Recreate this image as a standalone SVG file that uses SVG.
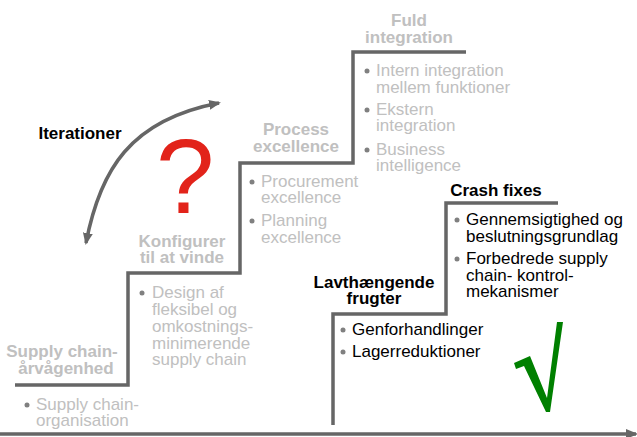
<svg xmlns="http://www.w3.org/2000/svg" width="637" height="437" viewBox="0 0 637 437">
<style>
.h{font-family:"Liberation Sans",Arial,sans-serif;font-size:17px;font-weight:bold;text-anchor:middle}
.t{font-family:"Liberation Sans",Arial,sans-serif;font-size:17px}
.g{fill:#c0c0c0}
.k{fill:#000}
.step{fill:none;stroke:#666;stroke-width:3.5}
.dot{fill:#808080}
</style>
<defs>
<marker id="ah" viewBox="0 0 12 10" refX="10" refY="5" markerWidth="12" markerHeight="10" markerUnits="userSpaceOnUse" orient="auto-start-reverse">
<path d="M0,0 L12,5 L0,10 z" fill="#666"/>
</marker>
</defs>
<rect width="637" height="437" fill="#fff"/>
<g id="connectors">
<path class="step" d="M15,385 H128 V273 H240 V163 H353 V52 H466"/>
<path class="step" d="M333,425 V314 H446 V203 H558"/>
<line x1="0" y1="434" x2="636" y2="434" stroke="#666" stroke-width="3.5" marker-end="url(#ah)"/>
<path d="M86,243 C100,170 130,120 219,103" fill="none" stroke="#666" stroke-width="3.5" marker-start="url(#ah)" marker-end="url(#ah)"/>
</g>
<g id="step1">
<text class="h g" x="62" y="357">Supply chain-</text>
<text class="h g" x="66" y="374">årvågenhed</text>
<circle class="dot" cx="27" cy="405" r="2.5"/>
<text class="t g" x="36" y="410">Supply chain-</text>
<text class="t g" x="36" y="426">organisation</text>
</g>
<g id="step2">
<text class="h g" x="182" y="247">Konfigurer</text>
<text class="h g" x="182" y="263">til at vinde</text>
<circle class="dot" cx="142" cy="293" r="2.5"/>
<text class="t g" x="152" y="298">Design af</text>
<text class="t g" x="152" y="315">fleksibel og</text>
<text class="t g" x="152" y="332">omkostnings-</text>
<text class="t g" x="152" y="349">minimerende</text>
<text class="t g" x="152" y="365">supply chain</text>
</g>
<g id="step3">
<text class="h g" x="296" y="135">Process</text>
<text class="h g" x="296" y="152">excellence</text>
<circle class="dot" cx="252" cy="182" r="2.5"/>
<text class="t g" x="261" y="187">Procurement</text>
<text class="t g" x="261" y="203">excellence</text>
<circle class="dot" cx="252" cy="221" r="2.5"/>
<text class="t g" x="261" y="226">Planning</text>
<text class="t g" x="261" y="243">excellence</text>
</g>
<g id="step4">
<text class="h g" x="409" y="26">Fuld</text>
<text class="h g" x="409" y="43">integration</text>
<circle class="dot" cx="367" cy="71" r="2.5"/>
<text class="t g" x="376" y="76">Intern integration</text>
<text class="t g" x="376" y="93">mellem funktioner</text>
<circle class="dot" cx="367" cy="110" r="2.5"/>
<text class="t g" x="376" y="115">Ekstern</text>
<text class="t g" x="376" y="131">integration</text>
<circle class="dot" cx="367" cy="150" r="2.5"/>
<text class="t g" x="376" y="155">Business</text>
<text class="t g" x="376" y="171">intelligence</text>
</g>
<g id="iterationer">
<text class="h k" x="80" y="139">Iterationer</text>
<text x="156" y="213" font-family="Liberation Sans,Arial,sans-serif" font-size="105" fill="#e2231a">?</text>
</g>
<g id="lavthaengende">
<text class="h k" x="374" y="288">Lavthængende</text>
<text class="h k" x="374" y="304">frugter</text>
<circle class="dot" cx="343" cy="330" r="2.5"/>
<text class="t k" x="352" y="335">Genforhandlinger</text>
<circle class="dot" cx="343" cy="352" r="2.5"/>
<text class="t k" x="352" y="357">Lagerreduktioner</text>
</g>
<g id="crashfixes">
<text class="h k" x="496" y="196">Crash fixes</text>
<circle class="dot" cx="457" cy="220" r="2.5"/>
<text class="t k" x="466" y="225">Gennemsigtighed og</text>
<text class="t k" x="466" y="242">beslutningsgrundlag</text>
<circle class="dot" cx="457" cy="259" r="2.5"/>
<text class="t k" x="466" y="264">Forbedrede supply</text>
<text class="t k" x="466" y="281">chain- kontrol-</text>
<text class="t k" x="466" y="297">mekanismer</text>
</g>
<g id="check">
<polygon points="514,363 530,356 547,398 557,322 563,322 550,412 546,412 524,366 516,369" fill="#008000"/>
</g>
</svg>
